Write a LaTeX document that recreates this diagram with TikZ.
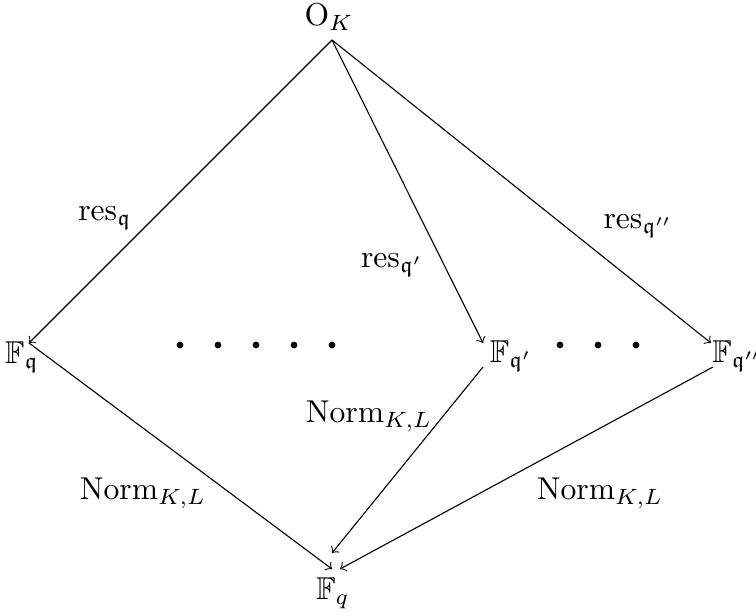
\documentclass[tikz,border=0pt]{standalone}
\usepackage{amssymb}
\begin{document}
\begin{tikzpicture}[x=0.3165pt,y=-0.3165pt,
  lbl/.style={inner sep=0pt},
  arr/.style={->, line width=0.35pt},
  dotmark/.style={fill=black, draw=none}]
\useasboundingbox (0,0) rectangle (756,611);
% objects
\node[lbl] (OK) at (329,17) {$\mathrm{O}_K$};
\node[lbl] (Fq) at (22,357) {$\mathbb{F}_{\mathfrak{q}}$};
\node[lbl] (Fq1) at (511,356) {$\mathbb{F}_{\mathfrak{q}'}$};
\node[lbl] (Fq2) at (737,356) {$\mathbb{F}_{\mathfrak{q}''}$};
\node[lbl] (Fbot) at (333,593) {$\mathbb{F}_q$};
% labels
\node[lbl] (r0) at (105,218) {$\mathrm{res}_{\mathfrak{q}}$};
\node[lbl] (r1) at (392,265) {$\mathrm{res}_{\mathfrak{q}'}$};
\node[lbl] (r2) at (638,226) {$\mathrm{res}_{\mathfrak{q}''}$};
\node[lbl] (n0) at (143,493) {$\mathrm{Norm}_{K,L}$};
\node[lbl] (n1) at (369,416) {$\mathrm{Norm}_{K,L}$};
\node[lbl] (n2) at (600,493) {$\mathrm{Norm}_{K,L}$};
% dots
\foreach \x in {180,218,256,294,332} \fill[dotmark] (\x,345) circle (3.4);
\foreach \x in {560,598,636} \fill[dotmark] (\x,345) circle (3.4);
% connector ends
\coordinate (s0) at (332,40);
\coordinate (e1) at (29,343);
\coordinate (e2) at (483,343);
\coordinate (e3) at (711,343);
\coordinate (b2) at (483,367);
\coordinate (b3) at (713,367);
\coordinate (t1) at (332,569);
\coordinate (t2) at (332,553);
\coordinate (t3) at (340,569);
\draw[arr] (s0) -- (e1);
\draw[arr] (s0) -- (e2);
\draw[arr] (s0) -- (e3);
\draw[arr] (e1) -- (t1);
\draw[arr] (b2) -- (t2);
\draw[arr] (b3) -- (t3);
\end{tikzpicture}
\end{document}
